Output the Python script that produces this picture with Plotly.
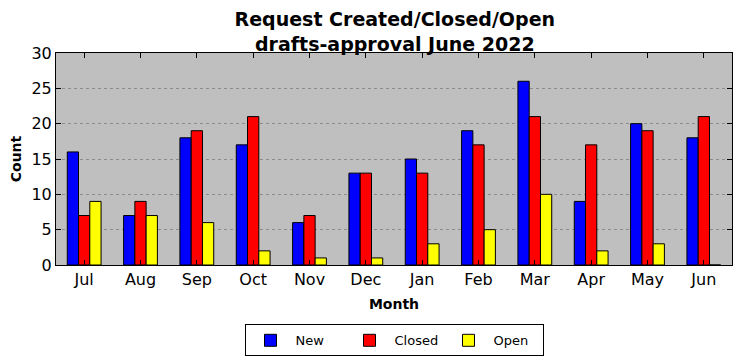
import plotly.graph_objects as go

months = ["Jul", "Aug", "Sep", "Oct", "Nov", "Dec", "Jan", "Feb", "Mar", "Apr", "May", "Jun"]
new_vals = [16, 7, 18, 17, 6, 13, 15, 19, 26, 9, 20, 18]
closed_vals = [7, 9, 19, 21, 7, 13, 13, 17, 21, 17, 19, 21]
open_vals = [9, 7, 6, 2, 1, 1, 3, 5, 10, 2, 3, 0]
y_ticks = [0, 5, 10, 15, 20, 25, 30]

FONT = "DejaVu Sans"

fig = go.Figure()
for name, vals, col in [("New", new_vals, "#0000ff"),
                        ("Closed", closed_vals, "#ff0000"),
                        ("Open", open_vals, "#ffff00")]:
    fig.add_trace(go.Bar(x=list(range(len(months))), y=vals, name=name,
                         marker=dict(color=col, line=dict(color="black", width=1))))

fig.update_layout(
    width=734, height=353,
    margin=dict(l=48, r=10, t=45, b=96, autoexpand=False),
    barmode="group", bargap=0.4, bargroupgap=0,
    plot_bgcolor="#bfbfbf", paper_bgcolor="white",
    font=dict(family=FONT, color="black"),
    title=dict(text="<b>Request Created/Closed/Open<br>drafts-approval June 2022</b>",
               x=0.527, xanchor="center", yref="container", y=0.948, yanchor="middle",
               automargin=False, font=dict(size=19, family=FONT)),
    legend=dict(orientation="h", x=0.5, xanchor="center", y=-0.28, yanchor="top",
                bordercolor="black", borderwidth=1, font=dict(size=13, family=FONT),
                itemwidth=40, traceorder="normal", entrywidth=44),
    showlegend=True,
)
fig.update_xaxes(
    range=[-0.5, 11.5], tickmode="array", tickvals=list(range(len(months))), ticktext=months,
    ticks="inside", ticklen=5, tickcolor="black", mirror="ticks", automargin=False,
    showline=True, linecolor="black", linewidth=1, showgrid=False, zeroline=False,
    tickfont=dict(size=16, family=FONT),
    title=dict(text="<b>Month</b>", font=dict(size=14, family=FONT), standoff=10),
)
fig.update_yaxes(
    range=[0, 30], tickmode="array", tickvals=y_ticks,
    ticks="inside", ticklen=5, tickcolor="black", mirror="ticks", automargin=False,
    showline=True, linecolor="black", linewidth=1,
    showgrid=True, gridcolor="#8c8c8c", griddash="dot", gridwidth=1, zeroline=False,
    tickfont=dict(size=16, family=FONT),
    title=dict(text="<b>Count</b>", font=dict(size=14, family=FONT), standoff=8),
)

fig.write_html("out.html")
